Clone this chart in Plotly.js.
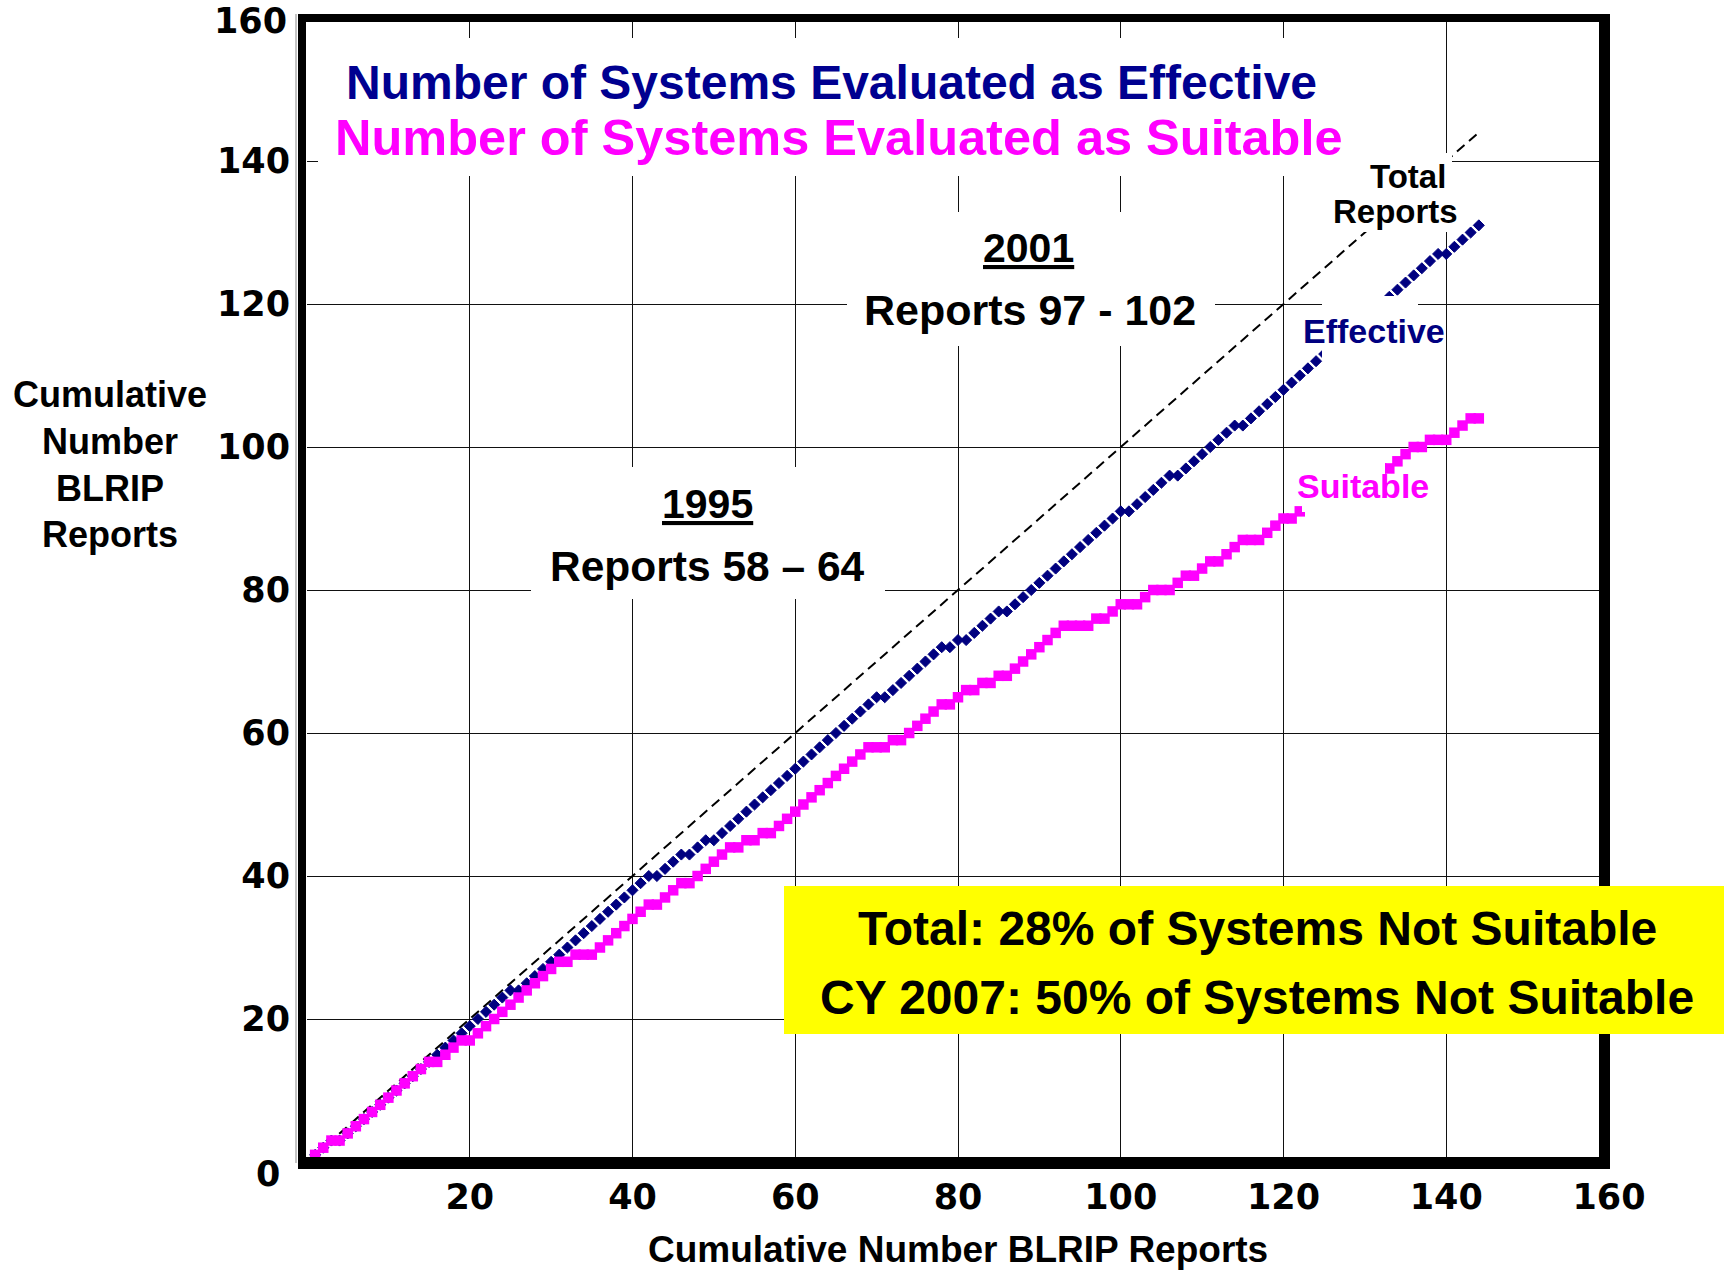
<!DOCTYPE html>
<html><head><meta charset="utf-8">
<script src="https://cdn.plot.ly/plotly-3.0.1.min.js"></script>
<style>html,body{margin:0;padding:0;background:#fff}#chart{width:1724px;height:1271px}</style>
</head><body><div id="chart"></div>
<script>
// ---- DATA ----
const reportNumber = [
  1,2,3,4,5,6,7,8,9,10, 11,12,13,14,15,16,17,18,19,20,
  21,22,23,24,25,26,27,28,29,30, 31,32,33,34,35,36,37,38,39,40,
  41,42,43,44,45,46,47,48,49,50, 51,52,53,54,55,56,57,58,59,60,
  61,62,63,64,65,66,67,68,69,70, 71,72,73,74,75,76,77,78,79,80,
  81,82,83,84,85,86,87,88,89,90, 91,92,93,94,95,96,97,98,99,100,
  101,102,103,104,105,106,107,108,109,110, 111,112,113,114,115,116,117,118,119,120,
  121,122,123,124,125,126,127,128,129,130, 131,132,133,134,135,136,137,138,139,140,
  141,142,143,144
];
const totalReports = [
  1,2,3,4,5,6,7,8,9,10, 11,12,13,14,15,16,17,18,19,20,
  21,22,23,24,25,26,27,28,29,30, 31,32,33,34,35,36,37,38,39,40,
  41,42,43,44,45,46,47,48,49,50, 51,52,53,54,55,56,57,58,59,60,
  61,62,63,64,65,66,67,68,69,70, 71,72,73,74,75,76,77,78,79,80,
  81,82,83,84,85,86,87,88,89,90, 91,92,93,94,95,96,97,98,99,100,
  101,102,103,104,105,106,107,108,109,110, 111,112,113,114,115,116,117,118,119,120,
  121,122,123,124,125,126,127,128,129,130, 131,132,133,134,135,136,137,138,139,140,
  141,142,143,144
];
const effective = [
  1,2,3,3,4,5,6,7,8,9, 10,11,12,13,14,15,16,17,18,19,
  20,21,22,23,24,24,25,26,27,28, 29,30,31,32,33,34,35,36,37,38,
  39,40,40,41,42,43,43,44,45,45, 46,47,48,49,50,51,52,53,54,55,
  56,57,58,59,60,61,62,63,64,65, 65,66,67,68,69,70,71,72,72,73,
  73,74,75,76,77,77,78,79,80,81, 82,83,84,85,86,87,88,89,90,91,
  91,92,93,94,95,96,96,97,98,99, 100,101,102,103,103,104,105,106,107,108,
  109,110,111,112,113,114,115,116,117,118, 119,120,121,122,123,124,125,126,127,127,
  128,129,130,131
];
const suitable = [
  1,2,3,3,4,5,6,7,8,9, 10,11,12,13,14,14,15,16,17,17,
  18,19,20,21,22,23,24,25,26,27, 28,28,29,29,29,30,31,32,33,34,
  35,36,36,37,38,39,39,40,41,42, 43,44,44,45,45,46,46,47,48,49,
  50,51,52,53,54,55,56,57,58,58, 58,59,59,60,61,62,63,64,64,65,
  66,66,67,67,68,68,69,70,71,72, 73,74,75,75,75,75,76,76,77,78,
  78,78,79,80,80,80,81,82,82,83, 84,84,85,86,87,87,87,88,89,90,
  90,91,92,92,93,94,94,95,95,96, 96,97,97,98,99,100,100,101,101,101,
  102,103,104,104
];
const xTickVals = [20,40,60,80,100,120,140,160];
const yTickVals = [20,40,60,80,100,120,140];   // 0 and 160 are drawn as edge labels below
const yEdgeTicks = [0,160];
const seriesNames = ['Total Reports','Effective','Suitable'];

// ---- LAYOUT HELPERS (pixel -> paper) ----
const W = 1724, H = 1271;
const M = {l:307, r:115, t:18, b:109};
const PW = W - M.l - M.r, PH = H - M.t - M.b;
const px2x = px => (px - M.l) / PW;
const py2y = py => (H - M.b - py) / PH;

const ARIAL = 'Liberation Sans, Arial, Helvetica, sans-serif';
const NAVY = '#000080';
const MAGENTA = '#FF00FF';

function ann(text, px, py, size, color, extra) {
  return Object.assign({
    text: text, xref: 'paper', yref: 'paper', x: px2x(px), y: py2y(py),
    xanchor: 'center', yanchor: 'middle', showarrow: false,
    font: {family: ARIAL, size: size, color: color, weight: 'bold'}
  }, extra || {});
}
function rect(x0, y0, x1, y1, fill) {
  return {type: 'rect', xref: 'paper', yref: 'paper', layer: 'above',
    x0: px2x(x0), x1: px2x(x1), y0: py2y(y1), y1: py2y(y0),
    fillcolor: fill, line: {width: 0}};
}
function hline(py, x0, x1, w, c) {
  return {type: 'line', xref: 'paper', yref: 'paper', layer: 'above',
    x0: px2x(x0), x1: px2x(x1), y0: py2y(py), y1: py2y(py),
    line: {color: c || '#000', width: w}};
}
function vline(px, y0, y1, w, c) {
  return {type: 'line', xref: 'paper', yref: 'paper', layer: 'above',
    x0: px2x(px), x1: px2x(px), y0: py2y(y0), y1: py2y(y1),
    line: {color: c || '#000', width: w}};
}

const traces = [
  {x: reportNumber, y: totalReports, name: seriesNames[0], type: 'scatter', mode: 'lines',
   line: {color: '#000', width: 2, dash: '10px,6px'}},
  {x: reportNumber, y: effective, name: seriesNames[1], type: 'scatter', mode: 'markers',
   marker: {symbol: 'diamond', size: 8.5, color: NAVY, line: {color: NAVY, width: 1}}},
  {x: reportNumber, y: suitable, name: seriesNames[2], type: 'scatter', mode: 'markers',
   marker: {symbol: 'square', size: 10.5, color: MAGENTA, line: {width: 0}}}
];

const TICKFAM = 'DejaVu Sans, Verdana, sans-serif';
const tickFont = {family: TICKFAM, size: 35, color: '#000', weight: 'bold'};

const edgeTickAnns = [
  // y = 0 label (sits a little below the axis in the original)
  {text: String(yEdgeTicks[0]), xref: 'paper', yref: 'paper', x: px2x(268), y: py2y(1174),
   xanchor: 'center', yanchor: 'middle', showarrow: false, font: tickFont},
  // y = 160 label
  {text: String(yEdgeTicks[1]), xref: 'paper', yref: 'y', x: px2x(289), y: yEdgeTicks[1],
   xanchor: 'right', yanchor: 'middle', showarrow: false, font: tickFont, yshift: -3}
];

const layout = {
  width: W, height: H,
  margin: {l: M.l, r: M.r, t: M.t, b: M.b, pad: 0},
  paper_bgcolor: '#fff', plot_bgcolor: '#fff',
  showlegend: false,
  xaxis: {range: [0, 160], tickvals: xTickVals, ticktext: xTickVals.map(String),
    showgrid: true, gridcolor: '#111', gridwidth: 1, zeroline: false, showline: false,
    ticks: '', tickfont: tickFont, ticklabelstandoff: 11, fixedrange: true},
  yaxis: {range: [0, 160], tickvals: yTickVals, ticktext: yTickVals.map(String),
    showgrid: true, gridcolor: '#111', gridwidth: 1, zeroline: false, showline: false,
    ticks: '', tickfont: tickFont, ticklabelstandoff: 16, fixedrange: true},
  shapes: [
    // white label backgrounds (cover gridlines / data)
    rect(318, 38, 1350, 176, '#fff'),
    rect(847, 212, 1215, 346, '#fff'),
    rect(531, 467, 885, 599, '#fff'),
    rect(1325, 153, 1452, 232, '#fff'),
    rect(1322, 296, 1418, 360, '#fff'),
    rect(1302, 463, 1385, 512, '#fff'),
    // thin shadow line and heavy frame
    vline(296, 14, 1163, 1, '#888'),
    vline(302, 14, 1169, 8),
    hline(18, 298, 1610, 8),
    vline(1604.5, 14, 1169, 11),
    hline(1163, 298, 1610, 12),
    // yellow call-out box
    rect(784, 886, 1724, 1034, '#FFFF00')
  ],
  annotations: [
    ann('Number of Systems Evaluated as Effective', 831, 82, 48, '#000090'),
    ann('Number of Systems Evaluated as Suitable', 839, 137, 50.5, MAGENTA),
    ann('<u>2001</u>', 1028, 248, 41, '#000'),
    ann('Reports 97 - 102', 1030, 310, 43, '#000'),
    ann('<u>1995</u>', 707, 504, 41, '#000'),
    ann('Reports 58 \u2013 64', 707, 566, 42.5, '#000'),
    ann('Total', 1408, 177, 33, '#000'),
    ann('Reports', 1395, 211, 33, '#000'),
    ann('Effective', 1374, 331, 34, NAVY),
    ann('Suitable', 1363, 486, 34, MAGENTA),
    ann('Total: 28% of Systems Not Suitable', 1257, 928, 48, '#000'),
    ann('CY 2007: 50% of Systems Not Suitable', 1257, 997, 48, '#000'),
    ann('Cumulative Number BLRIP Reports', 958, 1249, 37, '#000'),
    ann('Cumulative<br>Number<br>BLRIP<br>Reports', 110, 464, 36, '#000')
  ].concat(edgeTickAnns)
};

Plotly.newPlot('chart', traces, layout, {displayModeBar: false, staticPlot: true});
</script>
</body></html>
